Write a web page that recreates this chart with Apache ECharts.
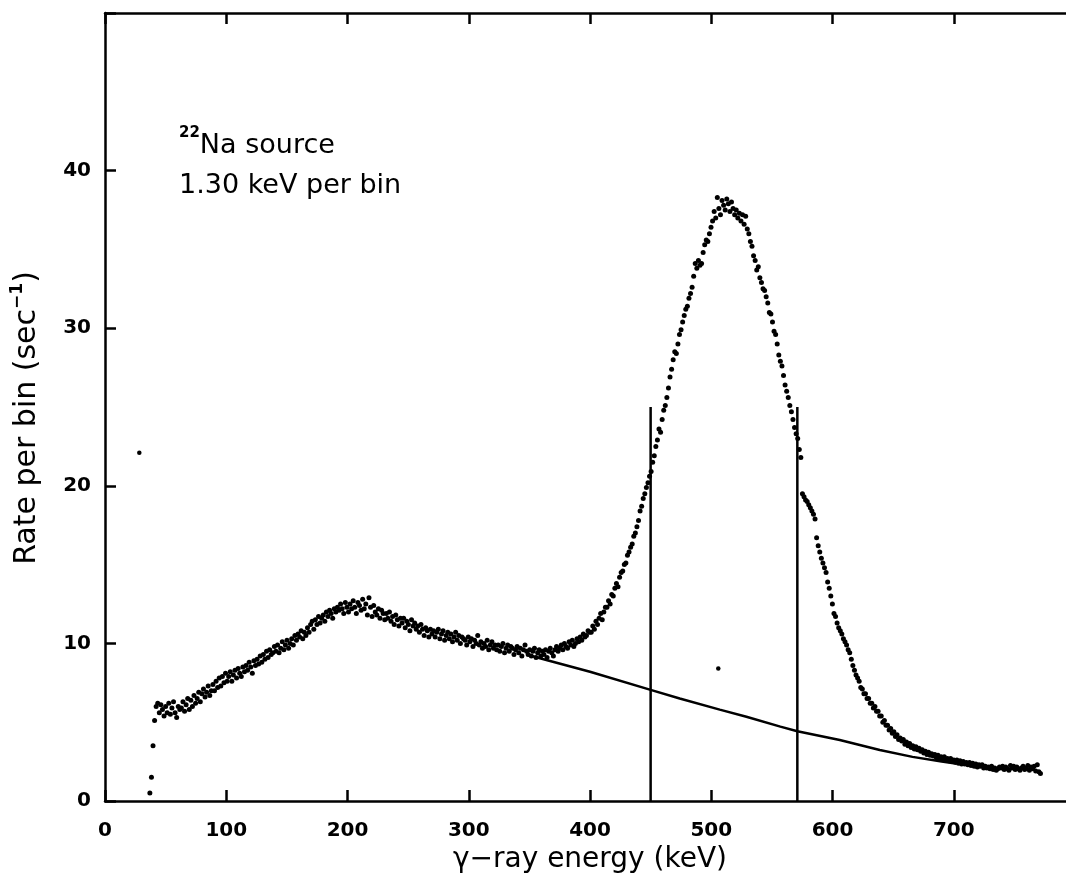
<!DOCTYPE html>
<html>
<head>
<meta charset="utf-8">
<title>22Na gamma-ray spectrum</title>
<script src="https://cdn.jsdelivr.net/npm/echarts@6/dist/echarts.min.js"></script>
<style>
  html, body { margin: 0; padding: 0; background: #fff; overflow: hidden; }
  #chart { width: 1066px; height: 878px; }
</style>
</head>
<body>
<div id="chart"></div>
<script>
// Pulse-height spectrum of a 22Na source, 1.30 keV per bin.
const BIN_KEV = 1.30;
const FIRST_BIN_KEV = 37.0;

// Rate per bin (sec^-1), one value per bin starting at FIRST_BIN_KEV.
const rates = [
  0.5, 1.5, 3.5, 5.1, 6.0, 6.2, 5.6, 6.1, 5.8, 5.4,
  6.0, 5.6, 6.2, 5.5, 5.9, 6.3, 5.6, 5.3, 6.0, 5.8,
  5.9, 6.3, 5.7, 6.1, 6.5, 5.8, 6.4, 6.0, 6.7, 6.2,
  6.5, 6.9, 6.3, 6.8, 7.1, 6.6, 6.9, 7.3, 6.7, 7.0,
  7.4, 7.0, 7.6, 7.2, 7.8, 7.3, 7.9, 7.5, 8.1, 7.6,
  7.9, 8.2, 7.6, 8.0, 8.3, 7.8, 8.4, 8.1, 7.9, 8.5,
  8.2, 8.6, 8.3, 8.8, 8.5, 8.1, 8.9, 8.6, 9.0, 8.7,
  9.2, 8.8, 9.3, 9.0, 9.5, 9.1, 9.6, 9.3, 9.4, 9.8,
  9.5, 9.9, 9.4, 9.7, 10.1, 9.6, 9.9, 10.2, 9.7, 10.0,
  10.3, 9.9, 10.5, 10.2, 10.6, 10.4, 10.8, 10.3, 10.7, 10.5,
  11.0, 10.7, 11.2, 11.4, 10.9, 11.5, 11.2, 11.7, 11.3, 11.6,
  11.8, 11.4, 12.0, 11.7, 12.1, 11.9, 11.6, 12.2, 12.0, 12.3,
  12.1, 12.5, 12.2, 11.9, 12.6, 12.3, 12.0, 12.5, 12.2, 12.7,
  12.3, 11.9, 12.6, 12.4, 12.1, 12.8, 12.2, 12.5, 11.8, 12.9,
  12.3, 11.7, 12.4, 12.0, 11.8, 12.2, 11.6, 12.1, 11.9, 11.5,
  11.9, 11.6, 12.0, 11.4, 11.7, 11.2, 11.8, 11.5, 11.1, 11.6,
  11.3, 11.6, 11.0, 11.4, 11.2, 10.8, 11.5, 11.1, 11.3, 10.9,
  11.1, 10.7, 11.2, 10.9, 10.5, 11.0, 10.8, 10.4, 10.9, 10.6,
  10.8, 10.4, 10.7, 10.9, 10.3, 10.6, 10.8, 10.2, 10.5, 10.7,
  10.3, 10.6, 10.1, 10.4, 10.7, 10.2, 10.5, 10.0, 10.4, 10.3,
  10.2, 9.9, 10.4, 10.1, 10.3, 9.8, 10.2, 10.0, 10.5, 9.9,
  10.1, 9.7, 10.0, 9.8, 10.2, 9.6, 9.9, 10.1, 9.7, 9.9,
  9.6, 9.9, 9.5, 9.8, 10.0, 9.4, 9.7, 9.9, 9.5, 9.8,
  9.7, 9.3, 9.6, 9.8, 9.4, 9.7, 9.2, 9.6, 9.9, 9.5,
  9.3, 9.6, 9.2, 9.5, 9.7, 9.1, 9.4, 9.6, 9.2, 9.5,
  9.3, 9.6, 9.1, 9.5, 9.7, 9.4, 9.2, 9.6, 9.8, 9.5,
  9.7, 9.9, 9.6, 10.0, 9.8, 9.7, 10.1, 9.9, 10.2, 9.8,
  10.0, 10.3, 10.1, 10.4, 10.2, 10.6, 10.4, 10.5, 10.8, 10.7,
  10.7, 11.1, 10.9, 11.4, 11.2, 11.6, 11.9, 11.5, 12.0, 12.3,
  12.3, 12.7, 12.5, 13.1, 13.0, 13.5, 13.8, 13.6, 14.2, 14.5,
  14.6, 15.0, 15.1, 15.6, 15.8, 16.1, 16.3, 16.8, 17.0, 17.4,
  17.8, 18.4, 18.7, 19.2, 19.5, 19.9, 20.2, 20.6, 20.9, 21.5,
  21.9, 22.5, 22.9, 23.6, 23.4, 24.2, 24.8, 25.1, 25.6, 26.2,
  26.9, 27.4, 28.0, 28.5, 28.4, 29.0, 29.6, 29.9, 30.4, 30.8,
  31.2, 31.4, 31.9, 32.2, 32.6, 33.3, 34.1, 33.8, 34.3, 34.0,
  34.1, 34.8, 35.3, 35.6, 35.5, 36.0, 36.4, 36.8, 37.4, 37.0,
  38.3, 37.6, 37.2, 38.1, 37.8, 37.5, 38.2, 37.9, 37.4, 38.0,
  37.6, 37.2, 37.5, 37.0, 37.3, 36.8, 37.2, 36.6, 37.1, 36.3,
  36.0, 35.5, 35.2, 34.6, 34.3, 33.7, 33.9, 33.2, 32.9, 32.5,
  32.4, 32.0, 31.6, 31.0, 30.9, 30.4, 29.8, 29.6, 29.0, 28.3,
  27.9, 27.6, 27.0, 26.4, 26.0, 25.6, 25.1, 24.7, 24.2, 23.7,
  23.3, 23.0, 22.3, 21.8, 19.5, 19.3, 19.1, 19.0, 18.8, 18.6,
  18.4, 18.2, 17.9, 16.7, 16.2, 15.8, 15.4, 15.1, 14.8, 14.5,
  13.9, 13.5, 13.0, 12.5, 11.9, 11.7, 11.3, 11.0, 10.8, 10.6,
  10.3, 10.1, 9.9, 9.6, 9.4, 9.0, 8.6, 8.3, 8.0, 7.8,
  7.6, 7.2, 7.1, 6.8, 6.8, 6.5, 6.5, 6.2, 6.2, 5.9,
  6.0, 5.7, 5.7, 5.4, 5.4, 5.0, 5.1, 4.8, 4.8, 4.5,
  4.6, 4.3, 4.4, 4.1, 4.2, 3.9, 4.0, 3.8, 3.9, 3.6,
  3.75, 3.5, 3.65, 3.4, 3.5, 3.3, 3.45, 3.25, 3.35, 3.15,
  3.25, 3.05, 3.15, 2.95, 3.1, 2.9, 3.0, 2.85, 2.95, 2.75,
  2.9, 2.7, 2.8, 2.65, 2.8, 2.6, 2.7, 2.55, 2.7, 2.5,
  2.6, 2.45, 2.6, 2.4, 2.55, 2.35, 2.5, 2.35, 2.45, 2.3,
  2.45, 2.25, 2.4, 2.2, 2.35, 2.15, 2.3, 2.2, 2.3, 2.1,
  2.2, 2.1, 2.15, 2.05, 2.2, 2.0, 2.1, 1.95, 2.05, 2.15,
  2.1, 2.2, 2.0, 2.15, 2.05, 1.95, 2.25, 2.1, 2.2, 2.0,
  2.15, 2.05, 1.95, 2.1, 2.2, 2.0, 2.1, 2.25, 1.95, 2.15,
  2.05, 2.2, 1.9, 2.3, 1.85, 1.75
];

// Isolated counts away from the main spectrum: [keV, rate].
const strayPoints = [[28.3, 22.1], [505.8, 8.4]];

// Estimated Compton background under the photopeak: [keV, rate].
const backgroundFit = [
  [352, 9.2], [364, 8.95], [400, 8.2], [450, 7.05], [474, 6.5], [507, 5.8],
  [529, 5.35], [557, 4.72], [571, 4.43], [606, 3.87], [639, 3.24],
  [666, 2.8], [690, 2.5], [700, 2.4]
];

// Integration window around the 511 keV peak (keV) and marker height (rate).
const windowEdges = [450, 571];
const windowTop = 25;

// Axis ranges and tick spacing.
const xRange = [0, 800];
const xStep = 100;
const yRange = [0, 50];
const yStep = 10;

const FONT = 'DejaVu Sans';
const INK = '#000';

const spectrum = rates.map((r, i) => [+(FIRST_BIN_KEV + i * BIN_KEV).toFixed(2), r]);

const axisLine = { show: true, onZero: false, lineStyle: { color: INK, width: 2.5 } };
const axisTick = { show: true, inside: true, length: 11, lineStyle: { color: INK, width: 2.5 } };

const windowSeries = windowEdges.map(e => ({
  type: 'line',
  data: [[e, 0], [e, windowTop]],
  symbol: 'none',
  lineStyle: { color: INK, width: 2.5 },
  silent: true,
  z: 3
}));

const chart = echarts.init(document.getElementById('chart'), null, { renderer: 'canvas' });

chart.setOption({
  animation: false,
  backgroundColor: '#fff',
  title: {
    text: '{sup|22}{txt|Na source}\n{txt|1.30 keV per bin}',
    left: 174,
    top: 121,
    textStyle: {
      color: INK,
      fontFamily: FONT,
      fontWeight: 'normal',
      rich: {
        sup: { fontFamily: FONT, fontSize: 15, fontWeight: 'bold', color: INK, verticalAlign: 'top', lineHeight: 26 },
        txt: { fontFamily: FONT, fontSize: 27, fontWeight: 'normal', color: INK, lineHeight: 40 }
      }
    }
  },
  // The frame runs to 800 keV; its right edge falls just outside the page.
  grid: {
    left: 105, top: 13, width: 970, height: 788,
    containLabel: false, outerBoundsMode: 'none'
  },
  xAxis: [
    {
      type: 'value', min: xRange[0], max: xRange[1], interval: xStep, position: 'bottom',
      axisLine, axisTick, splitLine: { show: false },
      axisLabel: {
        margin: 20, color: INK, fontFamily: FONT, fontSize: 20, fontWeight: 'bold',
        showMinLabel: true, showMaxLabel: false,
        formatter: v => (v >= xRange[1] ? '' : String(v))
      },
      name: 'γ−ray energy (keV)', nameLocation: 'middle', nameGap: 44,
      nameTextStyle: { color: INK, fontFamily: FONT, fontSize: 28 }
    },
    {
      type: 'value', min: xRange[0], max: xRange[1], interval: xStep, position: 'top',
      axisLine, axisTick, splitLine: { show: false }, axisLabel: { show: false }
    }
  ],
  yAxis: [
    {
      type: 'value', min: yRange[0], max: yRange[1], interval: yStep, position: 'left',
      axisLine, axisTick, splitLine: { show: false },
      axisLabel: {
        margin: 14, color: INK, fontFamily: FONT, fontSize: 20, fontWeight: 'bold',
        formatter: v => (v >= yRange[1] ? '' : String(v))
      },
      name: '{t|Rate per bin (sec}{s|−1}{t|)}', nameLocation: 'middle', nameGap: 60, nameRotate: 90,
      nameTextStyle: {
        color: INK, fontFamily: FONT,
        padding: [0, 22, 0, 0],
        rich: {
          t: { fontFamily: FONT, fontSize: 30, color: INK, lineHeight: 36 },
          s: { fontFamily: FONT, fontSize: 17, fontWeight: 'bold', color: INK, verticalAlign: 'top', lineHeight: 20 }
        }
      }
    },
    {
      type: 'value', min: yRange[0], max: yRange[1], interval: yStep, position: 'right',
      axisLine, axisTick: { show: false }, splitLine: { show: false }, axisLabel: { show: false }
    }
  ],
  series: [
    {
      type: 'scatter',
      data: spectrum,
      symbol: 'circle',
      symbolSize: 5,
      itemStyle: { color: INK, opacity: 1 },
      silent: true,
      z: 4
    },
    {
      type: 'scatter',
      data: strayPoints,
      symbol: 'circle',
      symbolSize: 4.5,
      itemStyle: { color: INK, opacity: 1 },
      silent: true,
      z: 4
    },
    {
      type: 'line',
      data: backgroundFit,
      symbol: 'none',
      smooth: false,
      lineStyle: { color: INK, width: 2.5 },
      silent: true,
      z: 3
    },
    ...windowSeries
  ]
});
</script>
</body>
</html>
